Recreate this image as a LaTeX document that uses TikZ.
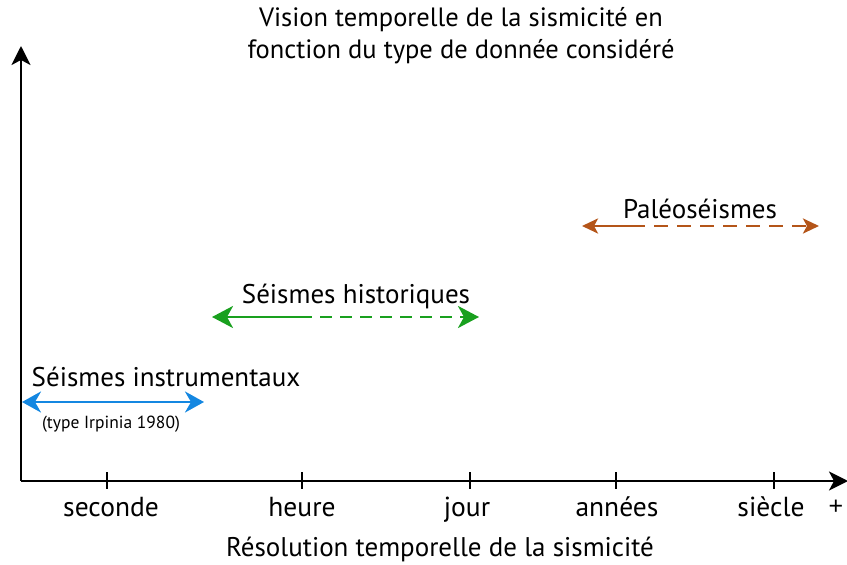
\documentclass[tikz,border=0pt]{standalone}
\usepackage{fontspec}
\setmainfont{PT Sans}
\newfontfamily\plusfont{Liberation Sans}
\usetikzlibrary{arrows.meta}
\definecolor{cblue}{RGB}{20,135,225}
\definecolor{cgreen}{RGB}{25,160,30}
\definecolor{cbrown}{RGB}{180,85,25}
\tikzset{
  axis/.style={line width=2.4pt, -{Stealth[length=19pt,width=19pt,inset=5pt]}},
  tick/.style={line width=1.3pt},
  ticklabel/.style={font=\fontsize{27.5}{30}\selectfont, anchor=base, inner sep=0pt},
  lbl/.style={font=\fontsize{27}{30}\selectfont, anchor=center, inner sep=0pt},
  seg/.style={line width=2.8pt},
  dsh/.style={line width=2.8pt, dash pattern=on 12pt off 8pt},
  gtip/.tip={Stealth[length=21pt,width=22pt,inset=6pt]},
  btip/.tip={Stealth[length=19pt,width=21pt,inset=6pt]},
  rtip/.tip={Stealth[length=16pt,width=15pt,inset=4pt]},
}
\begin{document}
\begin{tikzpicture}[x=1pt,y=-1pt]
\useasboundingbox (0,0) rectangle (847,565);
% title
\node[font=\fontsize{26.5}{32}\selectfont, align=center, inner sep=0pt] (title) at (461,36) {Vision temporelle de la sismicité en\\fonction du type de donnée considéré};
% axes
\coordinate (O) at (21,481);
\coordinate (ytop) at (21,46);
\coordinate (xend) at (848,481);
\draw[axis] (O) -- (ytop);
\draw[axis] (O) -- (xend);
% ticks
\foreach \n/\x in {t1/107,t2/302,t3/470,t4/616,t5/774}{
  \coordinate (\n a) at (\x,472);
  \coordinate (\n b) at (\x,489);
  \draw[tick] (\n a) -- (\n b);
}
\node[ticklabel] (seconde) at (111,516) {seconde};
\node[ticklabel] (heure) at (302,516) {heure};
\node[ticklabel] (jour) at (467,516) {jour};
\node[ticklabel] (annees) at (617,516) {années};
\node[ticklabel] (siecle) at (771,516) {siècle};
\node[font=\plusfont\fontsize{25}{28}\selectfont, inner sep=0pt, anchor=center] (plus) at (836,507) {+};
\node[font=\fontsize{27}{30}\selectfont, inner sep=0pt] (xlabel) at (440,549) {Résolution temporelle de la sismicité};
% Paleoseismes
\node[lbl] (pal) at (700,209) {Paléoséismes};
\coordinate (pa) at (582,226);
\coordinate (pm) at (631,226);
\coordinate (pb) at (819,226);
\draw[seg, cbrown, {rtip}-] (pa) -- (pm);
\draw[cbrown, line width=2.8pt, dash pattern=on 14pt off 9pt, -{rtip}] (pm) -- (pb);
% Seismes historiques
\node[lbl] (hist) at (356,296) {Séismes historiques};
\coordinate (ha) at (212,317);
\coordinate (hm) at (300,317);
\coordinate (hb) at (479,317);
\draw[seg, cgreen, {gtip}-] (ha) -- (hm);
\draw[dsh, cgreen, -{gtip}] (hm) -- (hb);
% Seismes instrumentaux
\node[lbl] (instr) at (166,377) {Séismes instrumentaux};
\coordinate (ia) at (22,402);
\coordinate (ib) at (204,402);
\draw[seg, cblue, {btip}-{btip}] (ia) -- (ib);
\node[font=\fontsize{17.5}{20}\selectfont, inner sep=0pt] (irp) at (111,424) {(type Irpinia 1980)};
\end{tikzpicture}
\end{document}
